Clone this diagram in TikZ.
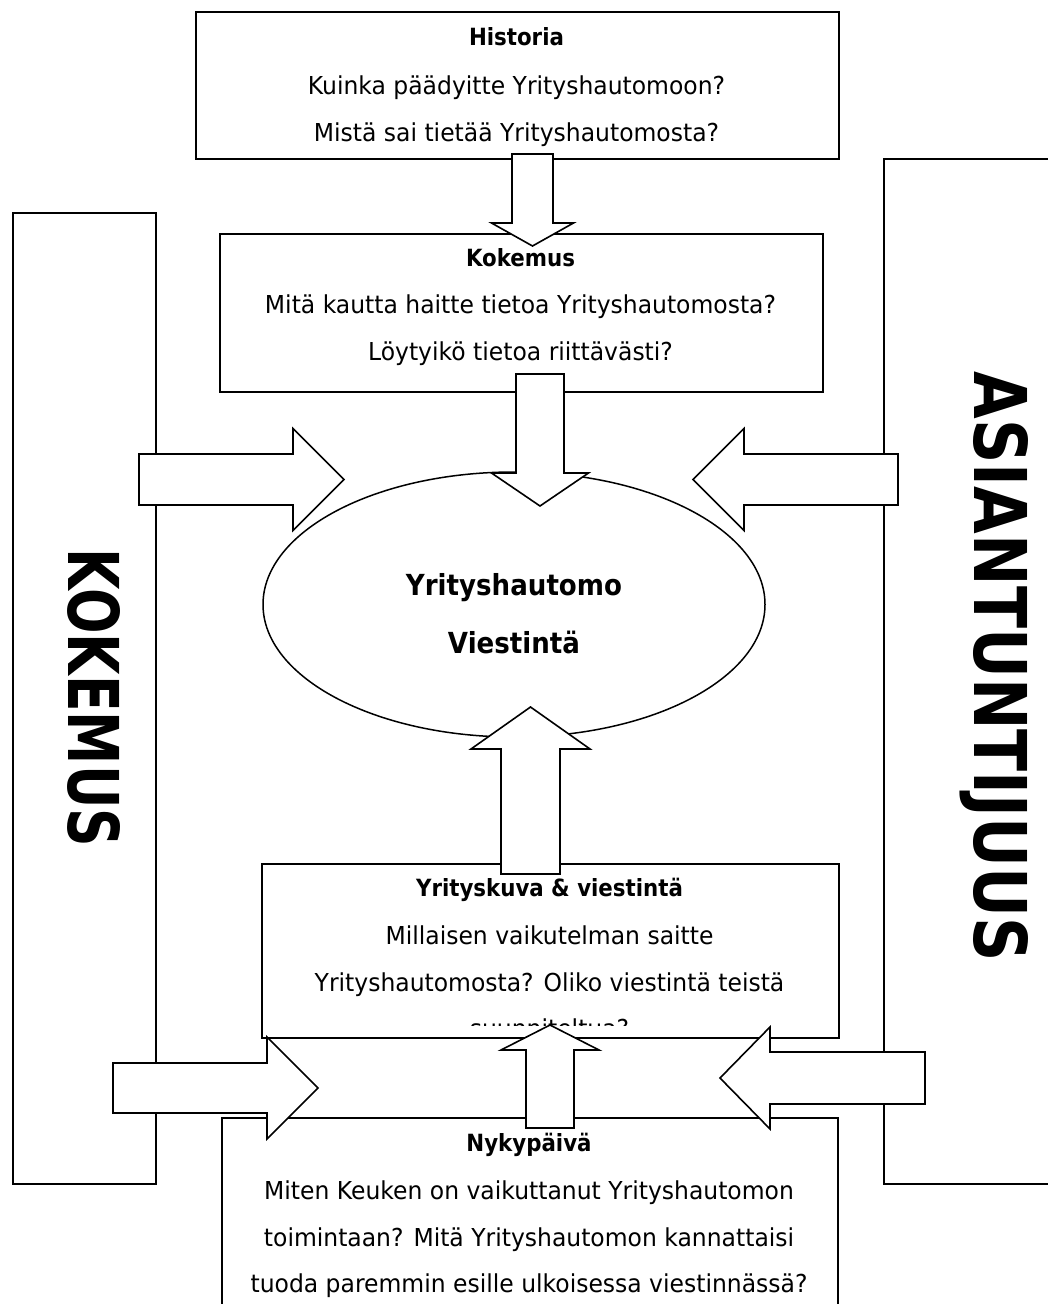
\documentclass[tikz,border=0pt]{standalone}
\usepackage{fontspec}
\usepackage{graphicx}
\setmainfont{DejaVu Sans}[FakeStretch=0.95, BoldFeatures={FakeStretch=0.9}]
\newfontfamily\sidefont{DejaVu Sans}
\usetikzlibrary{shapes.geometric}

\tikzset{
  panel/.style={draw, line width=1.6pt, fill=white, inner sep=0pt, anchor=north west},
  hub/.style={draw, line width=1.5pt, fill=white, ellipse, inner sep=0pt},
  bodytext/.style={inner sep=0pt, anchor=base, font=\fontsize{24.7}{29}\selectfont},
  headtext/.style={inner sep=0pt, anchor=base, font=\bfseries\fontsize{23.7}{28}\selectfont},
  hubtext/.style={inner sep=0pt, anchor=base, font=\bfseries\fontsize{29}{34}\selectfont},
  sidetext/.style={inner sep=0pt, rotate=-90},
  arrowbody/.style={draw, line width=1.6pt, fill=white, line join=miter},
  % block arrow pointing along local +x: length / shaft half width / head half width / head length
  pics/blockarrow/.style args={#1/#2/#3/#4}{code={
    \draw[arrowbody] (0,-#2) -- (#1-#4,-#2) -- (#1-#4,-#3) -- (#1,0)
      -- (#1-#4,#3) -- (#1-#4,#2) -- (0,#2) -- cycle;
  }},
}

\begin{document}
\begin{tikzpicture}[x=1pt, y=-1pt]
\useasboundingbox (0,0) rectangle (1048,1304);
\clip (0,0) rectangle (1048,1304);

% side panels
\node[panel, minimum width=143pt, minimum height=971pt] (leftpanel) at (12,212) {};
\node[panel, minimum width=200pt, minimum height=1025pt] (rightpanel) at (883,158) {};
\node[sidetext] (leftlabel) at (94,698)
  {\resizebox{298pt}{52pt}{\sidefont\bfseries KOKEMUS}};
\node[sidetext] (rightlabel) at (994,667)
  {\resizebox{590pt}{54pt}{\sidefont\bfseries ASIANTUNTIJUUS}};

% question boxes
\node[panel, minimum width=643pt, minimum height=147pt] (historia) at (195,11) {};
\node[panel, minimum width=603pt, minimum height=158pt] (kokemus) at (219,233) {};
\node[panel, minimum width=577pt, minimum height=174pt] (yrityskuva) at (261,863) {};
\node[panel, minimum width=616pt, minimum height=220pt] (nykypaiva) at (221,1117) {};

% central ellipse
\node[hub, minimum width=502pt, minimum height=265pt] (centre) at (514,604.5) {};
\node[hubtext] (centre1) at (514,595.5) {Yrityshautomo};
\node[hubtext] (centre2) at (514,653.5) {Viestintä};

% box texts
\node[headtext] (his1) at (516.5,45.7) {Historia};
\node[bodytext] (his2) at (516.5,94) {Kuinka päädyitte Yrityshautomoon?};
\node[bodytext] (his3) at (516.5,141) {Mistä sai tietää Yrityshautomosta?};

\node[headtext] (kok1) at (520.5,266.7) {Kokemus};
\node[bodytext] (kok2) at (520.5,313) {Mitä kautta haitte tietoa Yrityshautomosta?};
\node[bodytext] (kok3) at (520.5,360) {Löytyikö tietoa riittävästi?};

\node[headtext] (yri1) at (549.5,896.7) {Yrityskuva \& viestintä};
\node[bodytext] (yri2) at (549.5,944) {Millaisen vaikutelman saitte};
\node[bodytext] (yri3) at (549.5,991) {Yrityshautomosta? Oliko viestintä teistä};
\begin{scope}
  \clip (261,863) rectangle (838,1025);
  \node[bodytext] (yri4) at (549.5,1037.5) {suunniteltua?};
\end{scope}

\node[headtext] (nyk1) at (529,1151.7) {Nykypäivä};
\node[bodytext] (nyk2) at (529,1199) {Miten Keuken on vaikuttanut Yrityshautomon};
\node[bodytext] (nyk3) at (529,1246) {toimintaan? Mitä Yrityshautomon kannattaisi};
\node[bodytext] (nyk4) at (529,1292) {tuoda paremmin esille ulkoisessa viestinnässä?};

% block arrows
\pic[rotate=-90] (histdown) at (532.5,154) {blockarrow=92/20.5/41/23};
\pic[rotate=-90] (kokdown) at (540,374) {blockarrow=132/24/48.5/33};
\pic (leftin) at (139,479.5) {blockarrow=205/25.5/51/51};
\pic[rotate=180] (rightin) at (898,479.5) {blockarrow=205/25.5/51/51};
\pic[rotate=90] (imageup) at (530.5,874) {blockarrow=167/29.5/59.5/42};
\pic[rotate=90] (todayup) at (550,1128) {blockarrow=103/24/49/25};
\pic (leftlow) at (113,1088) {blockarrow=205/25/51/51};
\pic[rotate=180] (rightlow) at (925,1078) {blockarrow=205/26/51/50};
\end{tikzpicture}
\end{document}
